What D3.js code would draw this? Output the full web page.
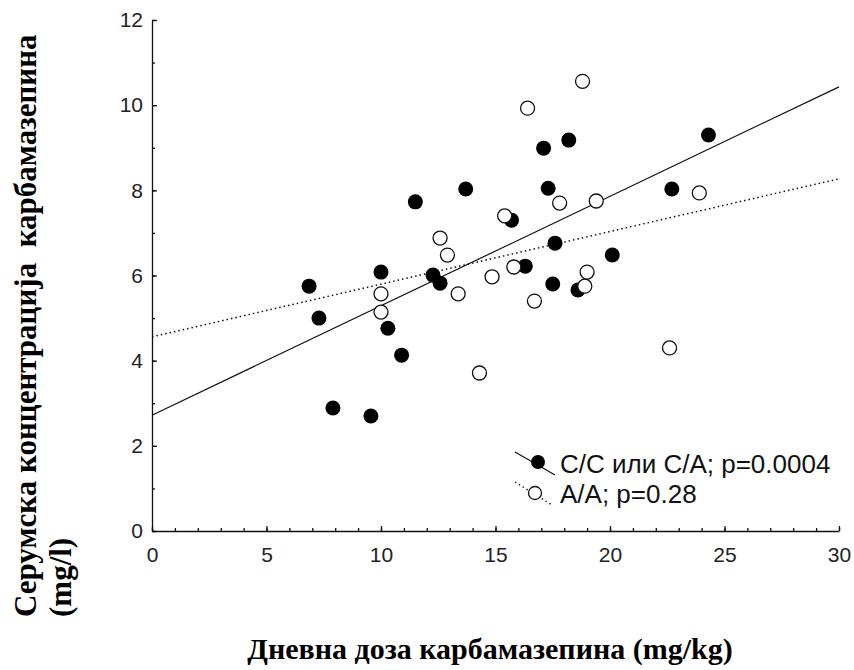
<html>
<head>
<meta charset="utf-8" />
<title>Карбамазепин</title>
<script src="https://d3js.org/d3.v7.min.js"></script>
<style>
body { margin: 0; background: #fff; }
.tick text { font-family: "Liberation Sans", Arial, sans-serif; font-size: 21px; fill: #222; }
</style>
</head>
<body>
<script>

// C/C или C/A genotype (filled dots)
var ccDose = [6.86, 7.29, 7.90, 9.56, 10.0, 10.3, 10.9, 11.5, 12.27, 12.58, 13.7, 15.7, 16.3, 17.1, 17.3, 17.5, 17.6, 18.2, 18.6, 20.1, 22.7, 24.3];
var ccConc = [5.75, 5.00, 2.89, 2.70, 6.08, 4.76, 4.13, 7.73, 6.01, 5.82, 8.03, 7.30, 6.22, 8.99, 8.05, 5.80, 6.76, 9.18, 5.66, 6.48, 8.03, 9.30];

// A/A genotype (open dots)
var aaDose = [10.0, 10.0, 12.58, 12.9, 13.37, 14.3, 14.85, 15.4, 15.8, 16.4, 16.7, 17.8, 18.8, 18.9, 19.0, 19.4, 22.6, 23.9];
var aaConc = [5.57, 5.14, 6.88, 6.48, 5.57, 3.71, 5.97, 7.40, 6.20, 9.93, 5.40, 7.70, 10.56, 5.75, 6.08, 7.75, 4.30, 7.94];

// fitted lines, read at x=0 and x=30
var lineX = [0, 30];
var ccFit = [2.72, 10.43];
var aaFit = [4.56, 8.27];

var xTicks = [0, 5, 10, 15, 20, 25, 30];
var yTicks = [0, 2, 4, 6, 8, 10, 12];

var legendLabels = ["C/C или C/A; p=0.0004", "A/A; p=0.28"];
var xTitle = "Дневна доза карбамазепина (mg/kg)";
var yTitle = ["Серумска концентрација  карбамазепина", "(mg/l)"];

var W = 854, H = 670;
var svg = d3.select("body").append("svg").attr("width", W).attr("height", H);

var x = d3.scaleLinear().domain([0, 30]).range([152, 839]);
var y = d3.scaleLinear().domain([0, 12]).range([531, 20]);

// minor ticks
svg.append("g").attr("transform", "translate(0,531)")
	.call(d3.axisBottom(x).tickValues(d3.range(0, 31)).tickSize(-3).tickFormat(""))
	.call(g => g.select(".domain").remove());
svg.append("g").attr("transform", "translate(152,0)")
	.call(d3.axisLeft(y).tickValues(d3.range(0, 13)).tickSize(-3).tickFormat(""))
	.call(g => g.select(".domain").remove());

// major axes
svg.append("g").attr("transform", "translate(0,531)")
	.call(d3.axisBottom(x).tickValues(xTicks).tickSize(-5).tickSizeOuter(0).tickPadding(16));
svg.append("g").attr("transform", "translate(152,0)")
	.call(d3.axisLeft(y).tickValues(yTicks).tickSize(-5).tickSizeOuter(0).tickPadding(9));

svg.selectAll(".domain, .tick line").attr("stroke", "#111").attr("stroke-width", 1.3);

// regression lines
var line = d3.line().x(d => x(d[0])).y(d => y(d[1]));
svg.append("path").datum(d3.zip(lineX, ccFit)).attr("d", line)
	.attr("fill", "none").attr("stroke", "#111").attr("stroke-width", 1.2);
svg.append("path").datum(d3.zip(lineX, aaFit)).attr("d", line)
	.attr("fill", "none").attr("stroke", "#111").attr("stroke-width", 1.5)
	.attr("stroke-dasharray", "1.5 3");

// points
svg.append("g").selectAll("circle").data(d3.zip(ccDose, ccConc)).join("circle")
	.attr("cx", d => x(d[0])).attr("cy", d => y(d[1])).attr("r", 7.5)
	.attr("fill", "#000");
svg.append("g").selectAll("circle").data(d3.zip(aaDose, aaConc)).join("circle")
	.attr("cx", d => x(d[0])).attr("cy", d => y(d[1])).attr("r", 7)
	.attr("fill", "#fff").attr("stroke", "#111").attr("stroke-width", 1.3);

// legend
var lg = svg.append("g");
lg.append("line").attr("x1", 515).attr("y1", 452).attr("x2", 555).attr("y2", 475)
	.attr("stroke", "#111").attr("stroke-width", 1.2);
lg.append("circle").attr("cx", 538).attr("cy", 462).attr("r", 7).attr("fill", "#000");
lg.append("line").attr("x1", 515).attr("y1", 482).attr("x2", 552).attr("y2", 505)
	.attr("stroke", "#111").attr("stroke-width", 1.3).attr("stroke-dasharray", "1.5 3");
lg.append("circle").attr("cx", 535).attr("cy", 493).attr("r", 6.5)
	.attr("fill", "#fff").attr("stroke", "#111").attr("stroke-width", 1.3);
lg.selectAll("text").data(legendLabels).join("text")
	.attr("x", 560).attr("y", (d, i) => 473 + i * 30)
	.attr("font-family", "Liberation Sans, Arial, sans-serif")
	.attr("font-size", "26px").attr("fill", "#111")
	.text(d => d);

// titles
svg.append("text")
	.attr("x", 490).attr("y", 659)
	.attr("text-anchor", "middle")
	.attr("font-family", "Liberation Serif, Times New Roman, serif")
	.attr("font-weight", "bold").attr("font-size", "30px")
	.text(xTitle);

svg.selectAll(".ytitle").data(yTitle).join("text")
	.attr("class", "ytitle")
	.attr("transform", (d, i) => "translate(" + (36 + i * 35) + ",617) rotate(-90)")
	.attr("font-family", "Liberation Serif, Times New Roman, serif")
	.attr("font-weight", "bold").attr("font-size", "31px")
	.attr("xml:space", "preserve")
	.style("white-space", "pre")
	.text(d => d);

</script>
</body>
</html>
